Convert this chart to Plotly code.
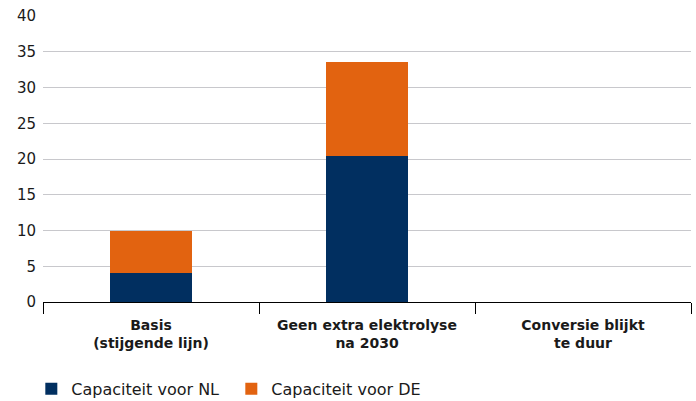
import plotly.graph_objects as go

# data
categories = ["<b>Basis</b><br><b>(stijgende lijn)</b>",
              "<b>Geen extra elektrolyse</b><br><b>na 2030</b>",
              "<b>Conversie blijkt</b><br><b>te duur</b>"]
capaciteit_nl = [4.0, 20.4, 0]
capaciteit_de = [6.0, 13.2, 0]

navy = "#012f60"
orange = "#e26310"

fig = go.Figure()
fig.add_trace(go.Bar(x=categories, y=capaciteit_nl, name="Capaciteit voor NL",
                     marker=dict(color=navy, line=dict(width=0)), width=0.38))
fig.add_trace(go.Bar(x=categories, y=capaciteit_de, name="Capaciteit voor DE",
                     marker=dict(color=orange, line=dict(width=0)), width=0.38))

fig.update_layout(
    barmode="stack",
    width=696, height=401,
    margin=dict(l=43, r=5, t=16, b=99, autoexpand=False),
    plot_bgcolor="white", paper_bgcolor="white",
    font=dict(family="DejaVu Sans, sans-serif", size=14, color="#1a1a1a"),
    showlegend=True,
    legend=dict(orientation="h", x=0.045, xref="container", y=0.03, yref="container",
                xanchor="left", yanchor="middle",
                font=dict(size=16), traceorder="normal",
                entrywidth=155),
    xaxis=dict(showline=True, linecolor="black", linewidth=1.2, automargin=False,
               ticks="outside", tickson="boundaries", ticklen=11,
               tickcolor="black", tickwidth=1, ticklabelstandoff=10,
               tickfont=dict(size=14, color="#1a1a1a")),
    yaxis=dict(range=[0, 40], dtick=5, showgrid=True, gridcolor="#c8c8cc",
               gridwidth=1.2, zeroline=False, ticks="", ticklabelstandoff=6,
               automargin=False,
               tickfont=dict(size=15, color="#1a1a1a")),
)

# drop the default page margin so the figure sits at the window's corner
fig.write_html("out.html", config={"displayModeBar": False},
               post_script="document.body.style.margin='0';")
